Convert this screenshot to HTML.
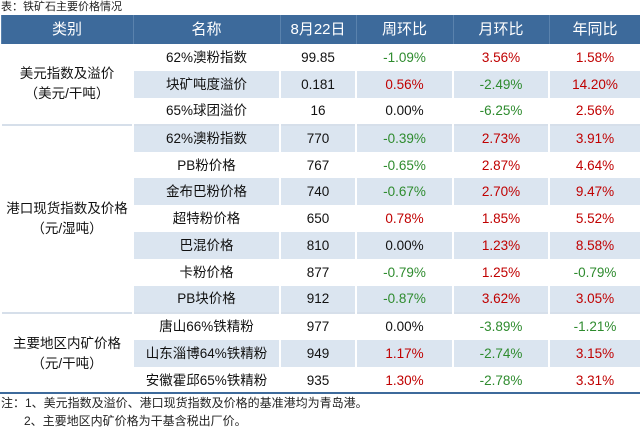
<!DOCTYPE html>
<html><head><meta charset="utf-8"><style>
body{margin:0;width:640px;height:439px;background:#fff;font-family:"Liberation Sans","Noto Sans CJK SC",sans-serif;overflow:hidden;position:relative}
.t{position:absolute;left:1px;top:0;font-size:11px;color:#222;line-height:14px}
table{position:absolute;left:0;top:15px;width:640px;border-collapse:collapse;table-layout:fixed}
tr{height:26.9px}
tr.h{height:29px}
td{font-size:13.5px;line-height:15px;text-align:center;padding:0;color:#111;border-left:2px solid #fff;border-right:2px solid #fff;box-sizing:border-box}
th{background:#3d6a9b;color:#fff;font-weight:normal;font-size:15px;line-height:16px;padding:0;border-left:1px solid #5a82ad;border-right:1px solid #5a82ad}
tr.s td.v{background:#dbe5f0}
tr.g td{border-top:2px solid #d6dfea}
td.c{line-height:20px}
.r{color:#c00000}.gr{color:#2e8b2e}
.n{position:absolute;left:1px;font-size:12px;color:#222;line-height:14px}
.line{position:absolute;left:0;top:392px;width:640px;height:2px;background:#3d6a9b}
</style></head><body>
<div class="t">表：铁矿石主要价格情况</div>
<table>
<colgroup><col style="width:132px"><col style="width:147px"><col style="width:76px"><col style="width:97px"><col style="width:96px"><col style="width:92px"></colgroup>
<tr class="h"><th>类别</th><th>名称</th><th>8月22日</th><th>周环比</th><th>月环比</th><th>年同比</th></tr>
<tr><td rowspan="3" class="c">美元指数及溢价<br>（美元/干吨）</td><td class="v">62%澳粉指数</td><td class="v">99.85</td><td class="v gr">-1.09%</td><td class="v r">3.56%</td><td class="v r">1.58%</td></tr>
<tr class="s"><td class="v">块矿吨度溢价</td><td class="v">0.181</td><td class="v r">0.56%</td><td class="v gr">-2.49%</td><td class="v r">14.20%</td></tr>
<tr><td class="v">65%球团溢价</td><td class="v">16</td><td class="v">0.00%</td><td class="v gr">-6.25%</td><td class="v r">2.56%</td></tr>
<tr class="s g"><td rowspan="7" class="c">港口现货指数及价格<br>（元/湿吨）</td><td class="v">62%澳粉指数</td><td class="v">770</td><td class="v gr">-0.39%</td><td class="v r">2.73%</td><td class="v r">3.91%</td></tr>
<tr><td class="v">PB粉价格</td><td class="v">767</td><td class="v gr">-0.65%</td><td class="v r">2.87%</td><td class="v r">4.64%</td></tr>
<tr class="s"><td class="v">金布巴粉价格</td><td class="v">740</td><td class="v gr">-0.67%</td><td class="v r">2.70%</td><td class="v r">9.47%</td></tr>
<tr><td class="v">超特粉价格</td><td class="v">650</td><td class="v r">0.78%</td><td class="v r">1.85%</td><td class="v r">5.52%</td></tr>
<tr class="s"><td class="v">巴混价格</td><td class="v">810</td><td class="v">0.00%</td><td class="v r">1.23%</td><td class="v r">8.58%</td></tr>
<tr><td class="v">卡粉价格</td><td class="v">877</td><td class="v gr">-0.79%</td><td class="v r">1.25%</td><td class="v gr">-0.79%</td></tr>
<tr class="s"><td class="v">PB块价格</td><td class="v">912</td><td class="v gr">-0.87%</td><td class="v r">3.62%</td><td class="v r">3.05%</td></tr>
<tr class="g"><td rowspan="3" class="c">主要地区内矿价格<br>（元/干吨）</td><td class="v">唐山66%铁精粉</td><td class="v">977</td><td class="v">0.00%</td><td class="v gr">-3.89%</td><td class="v gr">-1.21%</td></tr>
<tr class="s"><td class="v">山东淄博64%铁精粉</td><td class="v">949</td><td class="v r">1.17%</td><td class="v gr">-2.74%</td><td class="v r">3.15%</td></tr>
<tr><td class="v">安徽霍邱65%铁精粉</td><td class="v">935</td><td class="v r">1.30%</td><td class="v gr">-2.78%</td><td class="v r">3.31%</td></tr>
</table>
<div class="line"></div>
<div class="n" style="top:396px">注：1、美元指数及溢价、港口现货指数及价格的基准港均为青岛港。</div>
<div class="n" style="top:414px;left:24px">2、主要地区内矿价格为干基含税出厂价。</div>
</body></html>
